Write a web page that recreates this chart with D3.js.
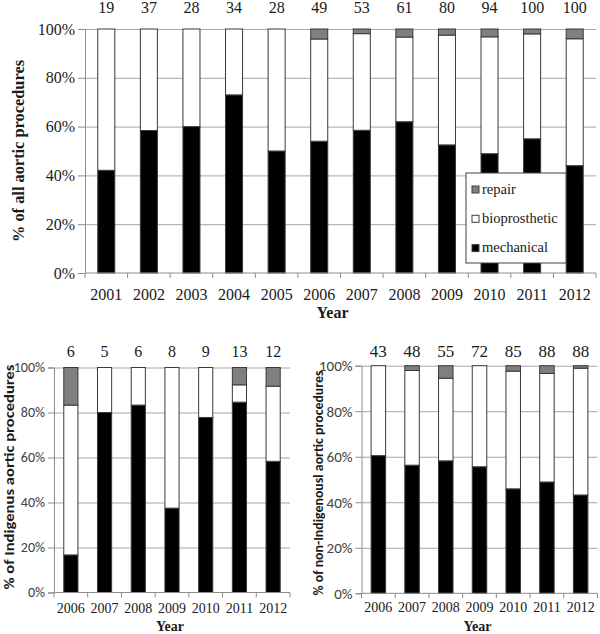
<!DOCTYPE html>
<html>
<head>
<meta charset="utf-8">
<script src="https://cdn.jsdelivr.net/npm/d3@7"></script>
<style>
body { margin: 0; background: #fff; }
</style>
</head>
<body>
<svg id="chart" width="600" height="634"></svg>
<script>
"use strict";

// all aortic procedures, 2001-2012
var allYears = ["2001", "2002", "2003", "2004", "2005", "2006", "2007", "2008", "2009", "2010", "2011", "2012"];
var allCounts = [19, 37, 28, 34, 28, 49, 53, 61, 80, 94, 100, 100];
var allMechanical = [42.1, 58.4, 60.0, 73.0, 50.0, 54.0, 58.5, 62.0, 52.5, 48.9, 55.0, 44.0];
var allBioprosthetic = [57.9, 41.6, 40.0, 27.0, 50.0, 41.9, 39.6, 34.7, 45.0, 47.9, 43.0, 52.0];
var allRepair = [0, 0, 0, 0, 0, 4.1, 1.9, 3.3, 2.5, 3.2, 2.0, 4.0];

// Indigenous, 2006-2012
var subYears = ["2006", "2007", "2008", "2009", "2010", "2011", "2012"];
var indCounts = [6, 5, 6, 8, 9, 13, 12];
var indMechanical = [16.7, 80.0, 83.3, 37.5, 77.8, 84.6, 58.3];
var indBioprosthetic = [66.6, 20.0, 16.7, 62.5, 22.2, 7.7, 33.4];
var indRepair = [16.7, 0, 0, 0, 0, 7.7, 8.3];

// non-Indigenous, 2006-2012
var nonCounts = [43, 48, 55, 72, 85, 88, 88];
var nonMechanical = [60.5, 56.3, 58.2, 55.6, 45.9, 48.9, 43.2];
var nonBioprosthetic = [39.5, 41.6, 36.3, 44.4, 51.7, 47.7, 55.7];
var nonRepair = [0, 2.1, 5.5, 0, 2.4, 3.4, 1.1];

var yTicks = [0, 20, 40, 60, 80, 100];
var seriesKeys = ["mechanical", "bioprosthetic", "repair"];
var legendKeys = ["repair", "bioprosthetic", "mechanical"];

var fills = { mechanical: "#000000", bioprosthetic: "#ffffff", repair: "#7f7f7f" };
var SERIF = "\"Liberation Serif\", \"Times New Roman\", serif";
var SANS = "Carlito, \"Open Sans\", sans-serif";

var svg = d3.select("#chart");

function makeRows(years, mech, bio, rep) {
	var rows = [];
	for (var i = 0; i < years.length; i++) {
		rows.push({ year: years[i], mechanical: mech[i], bioprosthetic: bio[i], repair: rep[i] });
	}
	return rows;
}

function drawPanel(cfg) {
	var g = svg.append("g");
	var x = d3.scaleBand().domain(cfg.years).range([cfg.left, cfg.right])
		.paddingInner(cfg.pad).paddingOuter(cfg.pad / 2);
	var y = d3.scaleLinear().domain([0, 100]).range([cfg.bottom, cfg.top]);

	// gridlines
	g.append("g")
		.attr("transform", "translate(" + cfg.left + ",0)")
		.call(d3.axisLeft(y).tickValues(yTicks.slice(1)).tickSize(-(cfg.right - cfg.left)).tickFormat(""))
		.call(function(s) {
			s.select(".domain").remove();
			s.selectAll("line").attr("stroke", "#a6a6a6");
		});

	// stacked bars
	var rows = makeRows(cfg.years, cfg.mech, cfg.bio, cfg.rep);
	var stack = d3.stack().keys(seriesKeys)(rows);
	g.selectAll("g.series").data(stack).enter().append("g")
		.attr("fill", function(d) { return fills[d.key]; })
		.selectAll("rect")
		.data(function(d) { return d.filter(function(p) { return p[1] - p[0] > 0; }); })
		.enter().append("rect")
		.attr("x", function(d) { return x(d.data.year); })
		.attr("width", x.bandwidth())
		.attr("y", function(d) { return y(d[1]); })
		.attr("height", function(d) { return y(d[0]) - y(d[1]); })
		.attr("stroke", "#3a3a3a")
		.attr("stroke-width", 1);

	// y axis
	g.append("g")
		.attr("transform", "translate(" + cfg.left + ",0)")
		.call(d3.axisLeft(y).tickValues(yTicks).tickSize(cfg.tickLen).tickPadding(3)
			.tickFormat(function(d) { return d + "%"; }))
		.call(function(s) {
			s.select(".domain").attr("stroke", "#8c8c8c");
			s.selectAll("line").attr("stroke", "#8c8c8c");
			s.selectAll("text").style("font-family", cfg.tickFont).style("font-size", cfg.tickSize + "px")
				.attr("fill", cfg.tickColor);
		});

	// x axis: boundary ticks between categories
	var step = x.step();
	var bounds = cfg.years.map(function(d) { return x(d) - step * cfg.pad / 2; });
	bounds.push(x(cfg.years[cfg.years.length - 1]) + x.bandwidth() + step * cfg.pad / 2);
	var xa = g.append("g").attr("transform", "translate(0," + cfg.bottom + ")");
	xa.append("line").attr("x1", cfg.left).attr("x2", cfg.right)
		.attr("stroke", "#8c8c8c");
	xa.selectAll("line.b").data(bounds).enter().append("line")
		.attr("class", "b")
		.attr("x1", function(d) { return d; }).attr("x2", function(d) { return d; })
		.attr("y1", 0).attr("y2", 5).attr("stroke", "#8c8c8c");
	xa.selectAll("text").data(cfg.years).enter().append("text")
		.attr("x", function(d) { return x(d) + x.bandwidth() / 2; })
		.attr("y", cfg.yearDy)
		.attr("text-anchor", "middle")
		.style("font-family", SERIF).style("font-size", cfg.yearSize + "px")
		.attr("fill", "#1a1a1a")
		.text(function(d) { return d; });

	// counts above bars
	g.selectAll("text.count").data(cfg.counts).enter().append("text")
		.attr("class", "count")
		.attr("x", function(d, i) { return x(cfg.years[i]) + x.bandwidth() / 2; })
		.attr("y", cfg.countY)
		.attr("text-anchor", "middle")
		.style("font-family", SERIF).style("font-size", cfg.countSize + "px")
		.attr("fill", "#1a1a1a")
		.text(function(d) { return d; });

	// axis titles
	g.append("text")
		.attr("x", (cfg.left + cfg.right) / 2 + cfg.xTitleShift)
		.attr("y", cfg.bottom + cfg.xTitleDy)
		.attr("text-anchor", "middle")
		.style("font-family", SERIF).style("font-weight", "bold").style("font-size", cfg.yearSize + "px")
		.attr("fill", "#1a1a1a")
		.text("Year");

	g.append("text")
		.attr("transform", "translate(" + cfg.yTitleX + "," + cfg.yTitleY + ") rotate(-90)")
		.attr("text-anchor", "middle")
		.style("font-family", cfg.titleFont).style("font-weight", "bold").style("font-size", cfg.titleSize + "px")
		.attr("textLength", cfg.titleLen).attr("lengthAdjust", "spacingAndGlyphs")
		.attr("fill", "#1a1a1a")
		.text(cfg.title);

	return g;
}

drawPanel({
	years: allYears, counts: allCounts, mech: allMechanical, bio: allBioprosthetic, rep: allRepair,
	left: 85, right: 596, top: 29, bottom: 273, pad: 0.6, tickLen: 7,
	tickFont: SERIF, tickSize: 16, tickColor: "#1a1a1a", yearSize: 16, yearDy: 27, countY: 13, countSize: 16,
	xTitleShift: -8, xTitleDy: 45,
	title: "% of all aortic procedures", titleFont: SERIF, titleSize: 16, titleLen: 182,
	yTitleX: 24, yTitleY: 151
});

drawPanel({
	years: subYears, counts: indCounts, mech: indMechanical, bio: indBioprosthetic, rep: indRepair,
	left: 54, right: 290, top: 367.5, bottom: 592.5, pad: 0.58, tickLen: 6,
	tickFont: SANS, tickSize: 14, tickColor: "#404040", yearSize: 14, yearDy: 20, countY: 357, countSize: 16,
	xTitleShift: -2, xTitleDy: 38,
	title: "% of Indigenus aortic procedures", titleFont: SANS, titleSize: 13.5, titleLen: 225,
	yTitleX: 14, yTitleY: 477
});

drawPanel({
	years: subYears, counts: nonCounts, mech: nonMechanical, bio: nonBioprosthetic, rep: nonRepair,
	left: 361.5, right: 597.5, top: 365.7, bottom: 593.3, pad: 0.57, tickLen: 6,
	tickFont: SANS, tickSize: 15, tickColor: "#404040", yearSize: 14, yearDy: 19, countY: 357, countSize: 17,
	xTitleShift: -2, xTitleDy: 38,
	title: "% of non-Indigenousl aortic procedures", titleFont: SANS, titleSize: 13.5, titleLen: 225,
	yTitleX: 323, yTitleY: 483
});

// legend in the top panel
var legend = svg.append("g").attr("transform", "translate(466,173)");
legend.append("rect").attr("width", 100).attr("height", 90)
	.attr("fill", "#fff").attr("stroke", "#404040");
var li = legend.selectAll("g.item").data(legendKeys).enter().append("g")
	.attr("class", "item")
	.attr("transform", function(d, i) { return "translate(6," + (13 + i * 29.3) + ")"; });
li.append("rect").attr("width", 7).attr("height", 7)
	.attr("fill", function(d) { return fills[d]; })
	.attr("stroke", "#404040");
li.append("text").attr("x", 10).attr("y", 7.5)
	.style("font-family", SERIF).style("font-size", "14.5px").attr("fill", "#1a1a1a")
	.text(function(d) { return d; });
</script>
</body>
</html>
